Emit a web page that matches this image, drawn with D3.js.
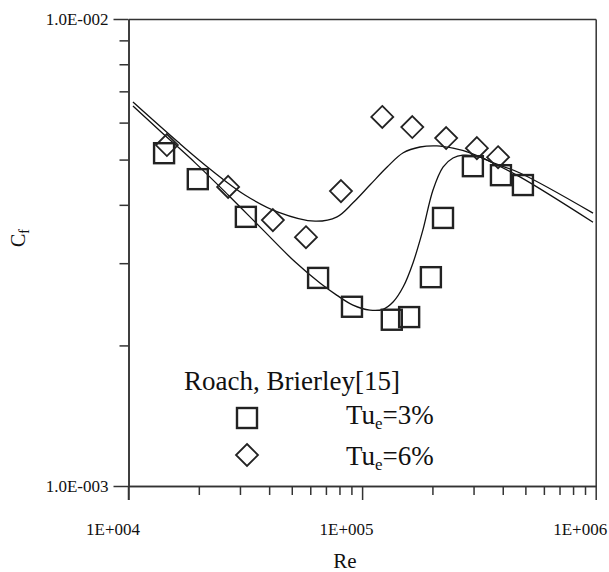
<!DOCTYPE html>
<html>
<head>
<meta charset="utf-8">
<script src="https://cdn.jsdelivr.net/npm/d3@7"></script>
<style>
  body { margin: 0; background: #fff; }
</style>
</head>
<body>
<svg id="chart" width="609" height="572"></svg>
<script>
// ---- data
var sqRe = [1.42e4, 1.98e4, 3.18e4, 6.48e4, 9.05e4, 1.34e5, 1.59e5, 1.97e5, 2.22e5, 2.98e5, 3.93e5, 4.88e5];
var sqCf = [5.16e-3, 4.54e-3, 3.77e-3, 2.79e-3, 2.42e-3, 2.27e-3, 2.30e-3, 2.80e-3, 3.75e-3, 4.84e-3, 4.63e-3, 4.41e-3];

var diRe = [1.46e4, 2.67e4, 4.15e4, 5.75e4, 8.12e4, 1.22e5, 1.64e5, 2.29e5, 3.10e5, 3.82e5];
var diCf = [5.37e-3, 4.37e-3, 3.71e-3, 3.41e-3, 4.28e-3, 6.17e-3, 5.87e-3, 5.56e-3, 5.29e-3, 5.06e-3];

// model curves
var c6Re = [1.045e4, 1.63e4, 2.26e4, 3.15e4, 4.37e4, 6.29e4, 7.81e4, 9.14e4, 1.08e5, 1.28e5, 1.50e5, 1.77e5, 2.09e5, 2.45e5, 2.90e5, 3.42e5, 4.74e5, 9.74e5];
var c6Cf = [6.64e-3, 5.45e-3, 4.75e-3, 4.20e-3, 3.86e-3, 3.69e-3, 3.77e-3, 4.04e-3, 4.41e-3, 4.82e-3, 5.17e-3, 5.32e-3, 5.35e-3, 5.29e-3, 5.17e-3, 4.99e-3, 4.59e-3, 3.67e-3];

var c3Re = [1.045e4, 1.38e4, 1.93e4, 2.67e4, 3.69e4, 5.16e4, 6.60e4, 7.81e4, 9.14e4, 1.08e5, 1.23e5, 1.36e5, 1.50e5, 1.65e5, 1.82e5, 2.01e5, 2.22e5, 2.45e5, 2.70e5, 3.20e5, 3.64e5, 4.74e5, 9.74e5];
var c3Cf = [6.51e-3, 5.73e-3, 4.92e-3, 4.20e-3, 3.57e-3, 3.02e-3, 2.72e-3, 2.56e-3, 2.44e-3, 2.38e-3, 2.39e-3, 2.48e-3, 2.67e-3, 3.00e-3, 3.53e-3, 4.30e-3, 4.82e-3, 5.04e-3, 5.11e-3, 5.06e-3, 4.92e-3, 4.68e-3, 3.84e-3];

var xMajor = [1e4, 1e5, 1e6];
var xLabels = ["1E+004", "1E+005", "1E+006"];
var xMinor = [2e4, 3e4, 4e4, 5e4, 6e4, 7e4, 8e4, 9e4, 2e5, 3e5, 4e5, 5e5, 6e5, 7e5, 8e5, 9e5];
var yMajor = [1e-3, 1e-2];
var yLabels = ["1.0E-003", "1.0E-002"];
var yMinor = [2e-3, 3e-3, 4e-3, 5e-3, 6e-3, 7e-3, 8e-3, 9e-3];

var FONT = "'Liberation Serif'";

var svg = d3.select("#chart");

var x = d3.scaleLog().domain([1e4, 1e6]).range([128.5, 595.7]);
var y = d3.scaleLog().domain([1e-3, 1e-2]).range([486, 19]);

var axisColor = "#333";

function styleAxis(g) {
	g.attr("font-family", null).attr("font-size", 17);
	g.selectAll("path, line").attr("stroke", axisColor).attr("stroke-width", 1.5);
	g.selectAll("text").attr("fill", "#111");
}

// frame: top and right
svg.append("g").attr("transform", "translate(0," + y(1e-2) + ")")
	.call(d3.axisTop(x).tickValues([]).tickSizeOuter(0)).call(styleAxis);
svg.append("g").attr("transform", "translate(" + x(1e6) + ",0)")
	.call(d3.axisRight(y).tickValues([]).tickSizeOuter(0)).call(styleAxis);

// bottom axis
var xi = function(d){ return xMajor.indexOf(d); };
svg.append("g").attr("transform", "translate(0," + y(1e-3) + ")")
	.call(d3.axisBottom(x).tickValues(xMinor).tickSize(9).tickSizeOuter(0).tickFormat(""))
	.call(styleAxis);
svg.append("g").attr("transform", "translate(0," + y(1e-3) + ")")
	.call(d3.axisBottom(x).tickValues(xMajor).tickSize(14).tickSizeOuter(0).tickPadding(23)
		.tickFormat(function(d){ return xLabels[xi(d)]; }))
	.call(styleAxis)
	.selectAll("text").attr("dx", -16);

// left axis
var yi = function(d){ return yMajor.indexOf(d); };
svg.append("g").attr("transform", "translate(" + x(1e4) + ",0)")
	.call(d3.axisLeft(y).tickValues(yMinor).tickSize(9).tickSizeOuter(0).tickFormat(""))
	.call(styleAxis);
svg.append("g").attr("transform", "translate(" + x(1e4) + ",0)")
	.call(d3.axisLeft(y).tickValues(yMajor).tickSize(15).tickSizeOuter(0).tickPadding(5)
		.tickFormat(function(d){ return yLabels[yi(d)]; }))
	.call(styleAxis);

// y axis continues a bit below the x axis
svg.append("line")
	.attr("x1", x(1e4)).attr("x2", x(1e4))
	.attr("y1", y(1e-3)).attr("y2", y(1e-3) + 14)
	.attr("stroke", axisColor).attr("stroke-width", 1.5);

// axis titles
svg.append("text").attr("x", 345).attr("y", 568)
	.attr("text-anchor", "middle").attr("font-size", 21).text("Re");

var cf = svg.append("text").attr("transform", "translate(25,247) rotate(-90)")
	.attr("font-size", 20);
cf.append("tspan").text("C");
cf.append("tspan").attr("dy", 4).attr("font-size", 14).text("f");

// curves
var line = d3.line()
	.x(function(d){ return x(d[0]); })
	.y(function(d){ return y(d[1]); })
	.curve(d3.curveCatmullRom.alpha(0.5));

var curves = [d3.zip(c6Re, c6Cf), d3.zip(c3Re, c3Cf)];
svg.append("g").selectAll("path").data(curves).enter().append("path")
	.attr("d", line)
	.attr("fill", "none")
	.attr("stroke", "#111")
	.attr("stroke-width", 1.3);

// markers
var markColor = "#222";
var diamond = "M0,-11L11,0L0,11L-11,0Z";

svg.append("g").selectAll("rect").data(d3.zip(sqRe, sqCf)).enter().append("rect")
	.attr("x", function(d){ return x(d[0]) - 10; })
	.attr("y", function(d){ return y(d[1]) - 10; })
	.attr("width", 20).attr("height", 20)
	.attr("fill", "none").attr("stroke", markColor).attr("stroke-width", 2.4);

svg.append("g").selectAll("path").data(d3.zip(diRe, diCf)).enter().append("path")
	.attr("transform", function(d){ return "translate(" + x(d[0]) + "," + y(d[1]) + ")"; })
	.attr("d", diamond)
	.attr("fill", "none").attr("stroke", markColor).attr("stroke-width", 1.8);

// legend
var lg = svg.append("g");
lg.append("text").attr("x", 184).attr("y", 390).attr("font-size", 27).text("Roach, Brierley[15]");

lg.append("rect").attr("x", 237).attr("y", 408).attr("width", 20).attr("height", 20)
	.attr("fill", "none").attr("stroke", markColor).attr("stroke-width", 2.4);
lg.append("path").attr("transform", "translate(247,455)").attr("d", diamond)
	.attr("fill", "none").attr("stroke", markColor).attr("stroke-width", 1.8);

function tuLabel(yy, pct) {
	var t = lg.append("text").attr("x", 346).attr("y", yy).attr("font-size", 27);
	t.append("tspan").text("Tu");
	t.append("tspan").attr("dy", 5).attr("font-size", 17).text("e");
	t.append("tspan").attr("dy", -5).text("=" + pct);
}
tuLabel(424, "3%");
tuLabel(465, "6%");

svg.selectAll("text").style("font-family", FONT).attr("fill", "#111");
</script>
</body>
</html>
